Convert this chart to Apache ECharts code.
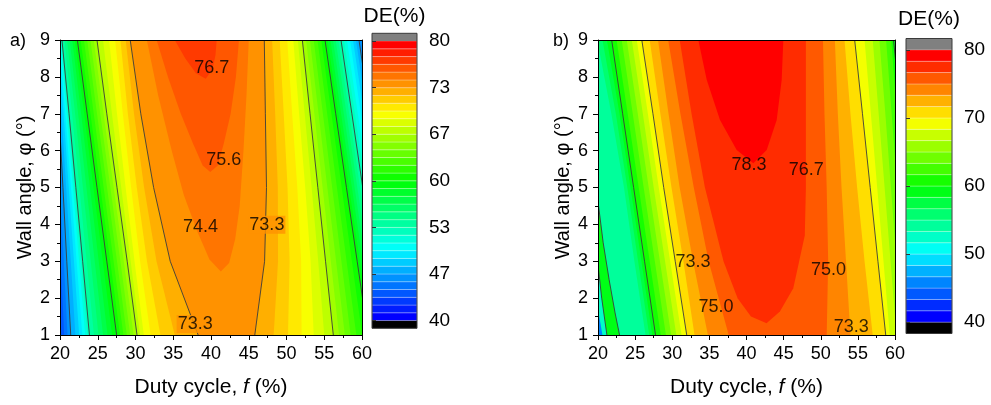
<!DOCTYPE html>
<html>
<head>
<meta charset="utf-8">
<script src="https://cdn.jsdelivr.net/npm/echarts@6/dist/echarts.min.js"></script>
<style>html,body{margin:0;padding:0;background:#fff;}#c{width:991px;height:405px;}</style>
</head>
<body>
<div id="c"></div>
<script>
// ===================== DATA =====================
// common axes
const dutyRange = [20, 60];
const phiRows = [1, 3, 5, 7, 9];          // rows at which contour crossings were read

// ---------- panel a) ----------
const levelsA = [40,41.11,42.22,43.33,44.44,45.56,46.67,47.78,48.89,50,51.11,52.22,53.33,54.44,55.56,56.67,57.78,58.89,60,61.11,62.22,63.33,64.44,65.56,66.67,67.78,68.89,70,71.11,72.22,73.33,74.44,75.56,76.67,77.78,78.89,80];
const colorbarTicksA = [40, 46.67, 53.33, 60, 66.67, 73.33, 80];
const colorbarLabelsA = ['40','47','53','60','67','73','80'];
const baseLevelA = 43.33;
const sideLevelsA = [44.44,45.56,46.67,47.78,48.89,50,51.11,52.22,53.33,54.44,55.56,56.67,57.78,58.89,60,61.11,62.22,63.33,64.44,65.56,66.67,67.78,68.89,70,71.11,72.22,73.33];
// duty cycle where DE crosses each level, low-f side (phi = 1,3,5,7,9)
const lowSideA = [
 [20.55,20.1,19.6,19.1,18.6],[21.0,20.5,20.0,19.5,19.0],[21.42,20.9,20.39,19.87,19.35],
 [22.04,21.43,20.82,20.2,19.58],[22.54,21.85,21.16,20.47,19.76],[22.96,22.2,21.45,20.69,19.91],
 [23.33,22.52,21.71,20.89,20.05],[23.63,22.77,21.91,21.05,20.16],[23.9,23.0,22.1,21.2,20.26],
 [24.5,23.53,22.57,21.6,20.6],[25.1,24.07,23.03,22.0,20.94],[25.7,24.6,23.5,22.4,21.28],
 [26.3,25.13,23.97,22.8,21.62],[26.9,25.67,24.43,23.2,21.96],[27.5,26.2,24.9,23.6,22.3],
 [27.95,26.65,25.34,24.03,22.73],[28.4,27.1,25.78,24.47,23.17],[28.85,27.55,26.23,24.9,23.6],
 [29.3,28.0,26.67,25.33,24.03],[29.75,28.45,27.11,25.77,24.47],[30.2,28.9,27.55,26.2,24.9],
 [30.6,29.36,28.11,26.88,25.7],[31.1,29.87,28.69,27.55,26.5],[32.0,30.61,29.42,28.32,27.3],
 [33.3,31.52,30.17,28.99,28.0],[35.2,32.78,31.14,29.8,28.7],[38.3,34.6,32.4,30.7,29.3]
];
// high-f side (null = beyond the right edge)
const highSideA = [
 [null,null,null,null,null],[65.76,64.32,62.88,61.44,60.0],[65.36,63.92,62.48,61.04,59.6],
 [64.96,63.52,62.08,60.64,59.2],[64.57,63.13,61.69,60.25,58.81],[64.17,62.73,61.29,59.85,58.41],
 [63.77,62.33,60.89,59.45,58.01],[63.38,61.94,60.5,59.06,57.62],[62.98,61.54,60.1,58.66,57.22],
 [62.61,61.17,59.74,58.31,56.87],[62.25,60.81,59.38,57.95,56.51],[61.88,60.45,59.02,57.59,56.16],
 [61.51,60.09,58.66,57.23,55.81],[61.15,59.72,58.3,56.88,55.45],[60.78,59.36,57.94,56.52,55.1],
 [60.02,58.66,57.31,55.95,54.6],[59.25,57.96,56.68,55.39,54.1],[58.49,57.27,56.05,54.82,53.6],
 [57.73,56.57,55.41,54.25,53.1],[56.96,55.87,54.78,53.69,52.6],[56.2,55.17,54.15,53.12,52.1],
 [55.0,54.2,53.33,52.41,51.5],[53.6,53.19,52.48,51.67,50.9],[52.0,51.94,51.43,50.75,50.1],
 [50.2,50.41,50.14,49.63,49.1],[48.3,48.88,48.85,48.5,48.1],[45.8,47.1,47.35,47.2,47.06]
];
// closed (U-shaped) regions near the optimum: [duty, phi] outlines
const capLevelsA = [74.44, 75.56, 76.67];
const capOutlineA = [
 [[31.5,9],[33.0,7.5],[34.8,6],[36.4,4.8],[38.2,3.8],[39.8,3.05],[41.3,2.72],[42.4,2.95],[43.2,3.6],[43.8,4.5],[44.3,6],[44.7,7.5],[45.0,9]],
 [[32.8,9],[34.3,8],[36.0,7],[37.6,6.2],[38.9,5.6],[39.9,5.42],[40.9,5.6],[41.7,6.2],[42.6,7],[43.3,8],[43.7,9]],
 [[35.2,9],[36.6,8.5],[38.0,8.1],[39.3,7.95],[40.2,8.2],[40.6,8.6],[40.75,9]]
];
const lineLevelsA = [46.67, 53.33, 60, 66.67, 73.33];
const contourLabelA = ['76.7','75.6','74.4','73.3','73.3'];
const labelDutyA = [40.1, 41.7, 38.6, 47.4, 37.9];
const labelPhiA  = [8.25, 5.75, 3.94, 3.99, 1.30];
const labelMaskA = [null, null, null, 73.33, 73.33];

// ---------- panel b) ----------
const levelsB = [40,41.67,43.33,45,46.67,48.33,50,51.67,53.33,55,56.67,58.33,60,61.67,63.33,65,66.67,68.33,70,71.67,73.33,75,76.67,78.33,80];
const colorbarTicksB = [40, 50, 60, 70, 80];
const colorbarLabelsB = ['40','50','60','70','80'];
const baseLevelB = 53.33;
const sideLevelsB = [55,56.67,58.33,60,61.67,63.33,65,66.67,68.33,70,71.67,73.33,75];
const lowSideB = [
 [26.4,24.9,23.5,21.8,19.9],[26.9,25.4,23.95,22.4,20.6],[27.3,25.85,24.38,22.9,21.2],
 [27.75,26.27,24.8,23.32,21.84],[28.45,26.96,25.48,24.0,22.5],[29.15,27.65,26.15,24.68,23.19],
 [29.85,28.34,26.83,25.36,23.87],[30.55,29.03,27.5,26.04,24.55],[31.25,29.72,28.18,26.72,25.22],
 [31.95,30.4,28.85,27.4,25.9],[33.0,31.5,29.9,28.4,26.96],[34.8,32.8,31.0,29.5,28.08],
 [37.6,34.9,32.9,31.1,29.45]
];
const highSideB = [
 [null,null,null,null,null],[null,null,null,null,null],[null,null,null,null,null],
 [63.2,62.4,61.6,60.8,59.8],[62.5,61.75,61.0,60.25,59.5],[61.8,61.05,60.3,59.55,58.8],
 [61.0,60.2,59.45,58.7,57.9],[60.2,59.4,58.6,57.8,57.0],[59.3,58.45,57.6,56.75,55.9],
 [58.75,57.7,56.66,55.62,54.57],[57.0,55.9,54.9,54.0,53.2],[54.0,53.4,52.8,52.3,51.9],
 [50.8,51.0,50.8,50.5,50.3]
];
const capLevelsB = [76.67, 78.33];
const capOutlineB = [
 [[31.0,9],[32.6,7],[34.4,5],[36.9,3],[38.8,2],[40.6,1.5],[42.7,1.32],[44.5,1.64],[46.3,2.27],[47.85,3.7],[48.0,5],[48.0,7],[48.0,9]],
 [[33.51,9],[34.64,7.92],[36.43,6.83],[38.68,6.02],[40.92,5.66],[42.72,6.02],[44.07,6.83],[44.74,7.92],[44.96,9]]
];
// small patches in the lower-left corner of b)
const patchLevelsB = [58.33, 51.67, 45];
const patchOutlineB = [
 [[20,4.62],[20.7,3.5],[21.5,2.5],[22.3,1.6],[22.9,1],[20,1]],
 [[20,2.9],[20.5,2.0],[21.2,1],[20,1]],
 [[20,1.7],[20.6,1],[20,1]]
];
const lineLevelsB = [60, 70];
const extraLinesB = [
 [[20,4.62],[20.7,3.5],[21.5,2.5],[22.3,1.6],[22.9,1]],
 [[20,2.9],[20.5,2.0],[21.2,1]]
];
const contourLabelB = ['78.3','76.7','73.3','75.0','75.0','73.3'];
const labelDutyB = [40.35, 48.05, 32.8, 35.9, 51.05, 54.1];
const labelPhiB  = [5.6, 5.47, 2.98, 1.75, 2.76, 1.22];
const labelMaskB = [null, null, null, null, null, null];

// ===================== RENDERING =====================
const FONT = "'Liberation Sans', Arial, Helvetica, sans-serif";
const rampStops = ['#0000ff', '#00ffff', '#00ff00', '#ffff00', '#ff0000'];
const underColor = '#000000', overColor = '#808080';

function hexToRgb(h) { return [1, 3, 5].map(i => parseInt(h.slice(i, i + 2), 16)); }
function ramp(t) {
  const n = rampStops.length - 1;
  const s = Math.max(0, Math.min(n, t * n));
  const i = Math.min(n - 1, Math.floor(s));
  const f = s - i;
  const a = hexToRgb(rampStops[i]), b = hexToRgb(rampStops[i + 1]);
  return 'rgb(' + a.map((v, k) => Math.round(v + (b[k] - v) * f)).join(',') + ')';
}
function bandIndex(levels, L) {
  let best = 0;
  levels.forEach((v, i) => { if (Math.abs(v - L) < Math.abs(levels[best] - L)) best = i; });
  return best;
}
function bandColor(levels, L) {
  const nb = levels.length - 1;
  return ramp(bandIndex(levels, L) / (nb - 1));
}

function buildFills(cfg) {
  const x0 = dutyRange[0], x1 = dutyRange[1];
  const y0 = phiRows[0], y1 = phiRows[phiRows.length - 1];
  const out = [{ level: cfg.base, pts: [[x0, y0], [x0, y1], [x1, y1], [x1, y0]] }];
  cfg.sideLevels.forEach((L, k) => {
    const left = phiRows.map((p, r) => [cfg.low[k][r] == null ? x0 : cfg.low[k][r], p]);
    const right = phiRows.map((p, r) => [cfg.high[k][r] == null ? x1 : cfg.high[k][r], p]).reverse();
    out.push({ level: L, pts: left.concat(right) });
  });
  cfg.capLevels.forEach((L, k) => out.push({ level: L, pts: cfg.capPts[k] }));
  (cfg.patchLevels || []).forEach((L, k) => out.push({ level: L, pts: cfg.patchPts[k] }));
  return out.map(o => Object.assign({}, o, { color: bandColor(cfg.levels, o.level) }));
}
function buildLines(cfg) {
  const out = [];
  cfg.lineLevels.forEach(L => {
    const k = cfg.sideLevels.findIndex(v => Math.abs(v - L) < 0.01);
    [cfg.low[k], cfg.high[k]].forEach(side => {
      const pts = phiRows.map((p, r) => side[r] == null ? null : [side[r], p]).filter(Boolean);
      if (pts.length > 1) out.push(pts);
    });
  });
  (cfg.extraLines || []).forEach(l => out.push(l));
  return out;
}

const cfgA = { levels: levelsA, base: baseLevelA, sideLevels: sideLevelsA, low: lowSideA, high: highSideA,
  capLevels: capLevelsA, capPts: capOutlineA, lineLevels: lineLevelsA };
const cfgB = { levels: levelsB, base: baseLevelB, sideLevels: sideLevelsB, low: lowSideB, high: highSideB,
  capLevels: capLevelsB, capPts: capOutlineB, patchLevels: patchLevelsB, patchPts: patchOutlineB,
  lineLevels: lineLevelsB, extraLines: extraLinesB };

function clipRect(cs) { return { type: 'rect', shape: { x: cs.x, y: cs.y, width: cs.width, height: cs.height } }; }

function fillSeries(xi, yi, fills) {
  return { type: 'custom', xAxisIndex: xi, yAxisIndex: yi, z: 1, silent: true, clip: true,
    data: fills.map(f => f.pts[0]),
    renderItem: (params, api) => {
      const f = fills[params.dataIndex];
      return { type: 'polygon', shape: { points: f.pts.map(p => api.coord(p)) },
        style: { fill: f.color }, clipPath: clipRect(params.coordSys) };
    } };
}
function lineSeries(xi, yi, lines) {
  return { type: 'custom', xAxisIndex: xi, yAxisIndex: yi, z: 3, silent: true, clip: true,
    data: lines.map(l => l[0]),
    renderItem: (params, api) => {
      const l = lines[params.dataIndex];
      return { type: 'polyline', shape: { points: l.map(p => api.coord(p)) },
        style: { stroke: '#3c3c3c', lineWidth: 0.9, fill: null }, clipPath: clipRect(params.coordSys) };
    } };
}
function labelSeries(xi, yi, levels, texts, duty, phi, mask) {
  return { type: 'scatter', xAxisIndex: xi, yAxisIndex: yi, z: 6, silent: true, symbolSize: 1,
    itemStyle: { color: 'rgba(0,0,0,0)' },
    label: { show: true, position: 'inside', formatter: '{b}', fontSize: 18, color: '#000', fontFamily: FONT },
    data: texts.map((t, i) => ({ name: t, value: [duty[i], phi[i]],
      label: mask[i] != null ? { backgroundColor: bandColor(levels, mask[i]), padding: [0, 1] } : {} })) };
}
function colorbarSeries(xi, yi, levels) {
  const step = levels[1] - levels[0], nb = levels.length - 1;
  const items = [[levels[0] - step, levels[0], underColor]];
  for (let i = 0; i < nb; i++) items.push([levels[i], levels[i + 1], ramp(i / (nb - 1))]);
  items.push([levels[nb], levels[nb] + step, overColor]);
  items.push([levels[0] - step, levels[nb] + step, null]); // frame
  return { type: 'custom', xAxisIndex: xi, yAxisIndex: yi, z: 2, silent: true,
    data: items.map(it => [0.5, (it[0] + it[1]) / 2]),
    renderItem: (params, api) => {
      const it = items[params.dataIndex];
      const p0 = api.coord([0, it[1]]), p1 = api.coord([1, it[0]]);
      const shape = { x: p0[0], y: p0[1], width: p1[0] - p0[0], height: p1[1] - p0[1] };
      if (it[2] == null) return { type: 'rect', shape, z2: 10, style: { fill: null, stroke: '#3a3a3a', lineWidth: 1 } };
      const sep = (it[2] === underColor || it[2] === overColor) ? null : 'rgba(255,255,255,0.45)';
      return { type: 'rect', shape, style: { fill: it[2], stroke: sep, lineWidth: 0.6 } };
    } };
}

const axisLabelStyle = { fontSize: 18, color: '#000', fontFamily: FONT };
function plotXAxis(gi) {
  return [{
    type: 'value', gridIndex: gi, min: dutyRange[0], max: dutyRange[1], interval: 5, position: 'bottom', z: 10,
    axisLine: { show: true, onZero: false, lineStyle: { color: '#000', width: 1 } },
    axisTick: { show: true, inside: false, length: 5, lineStyle: { color: '#000' } },
    minorTick: { show: true, splitNumber: 2, length: 3, lineStyle: { color: '#000' } },
    splitLine: { show: false },
    axisLabel: Object.assign({ margin: 10 }, axisLabelStyle),
    name: 'Duty cycle, {i|f} (%)', nameLocation: 'middle', nameGap: 42,
    nameTextStyle: { fontSize: 21, color: '#000', fontFamily: FONT,
      rich: { i: { fontStyle: 'italic', fontSize: 21, color: '#000', fontFamily: FONT } } }
  }, {
    type: 'value', gridIndex: gi, min: dutyRange[0], max: dutyRange[1], position: 'top', z: 10,
    axisLine: { show: true, onZero: false, lineStyle: { color: '#000', width: 1 } },
    axisTick: { show: false }, axisLabel: { show: false }, splitLine: { show: false }
  }];
}
function plotYAxis(gi) {
  return [{
    type: 'value', gridIndex: gi, min: 1, max: 9, interval: 1, position: 'left', z: 10,
    axisLine: { show: true, onZero: false, lineStyle: { color: '#000', width: 1 } },
    axisTick: { show: true, inside: false, length: 5, lineStyle: { color: '#000' } },
    minorTick: { show: true, splitNumber: 2, length: 3, lineStyle: { color: '#000' } },
    splitLine: { show: false },
    axisLabel: Object.assign({ margin: 10 }, axisLabelStyle),
    name: 'Wall angle, φ (°)', nameLocation: 'middle', nameGap: 25, nameRotate: 90,
    nameTextStyle: { fontSize: 20, color: '#000', fontFamily: FONT }
  }, {
    type: 'value', gridIndex: gi, min: 1, max: 9, position: 'right', z: 10,
    axisLine: { show: true, onZero: false, lineStyle: { color: '#000', width: 1 } },
    axisTick: { show: false }, axisLabel: { show: false }, splitLine: { show: false }
  }];
}
function cbXAxis(gi) { return { type: 'value', gridIndex: gi, min: 0, max: 1, show: false }; }
function cbYAxis(gi, levels, ticks, labels) {
  const step = levels[1] - levels[0];
  return {
    type: 'value', gridIndex: gi, min: levels[0] - step, max: levels[levels.length - 1] + step, position: 'right', z: 10,
    axisLine: { show: false },
    axisTick: { show: true, inside: false, length: 4, customValues: ticks, lineStyle: { color: '#333' } },
    axisLabel: Object.assign({ margin: 12, customValues: ticks,
      formatter: v => { const i = ticks.findIndex(t => Math.abs(t - v) < 0.01); return i < 0 ? '' : labels[i]; } },
      axisLabelStyle, { fontSize: 19 }),
    splitLine: { show: false }
  };
}

const option = {
  backgroundColor: '#ffffff',
  animation: false,
  textStyle: { fontFamily: FONT },
  grid: [
    { left: 60, top: 40, width: 302, height: 295 },
    { left: 372, top: 33.3, width: 45, height: 295 },
    { left: 598, top: 40, width: 297, height: 295 },
    { left: 906, top: 38.5, width: 46, height: 295 }
  ],
  xAxis: [].concat(plotXAxis(0), [cbXAxis(1)], plotXAxis(2), [cbXAxis(3)]),
  yAxis: [].concat(plotYAxis(0), [cbYAxis(1, levelsA, colorbarTicksA, colorbarLabelsA)],
                   plotYAxis(2), [cbYAxis(3, levelsB, colorbarTicksB, colorbarLabelsB)]),
  graphic: [
    { type: 'text', x: 10, y: 41, style: { text: 'a)', font: '18px ' + FONT, fill: '#000', textVerticalAlign: 'middle' } },
    { type: 'text', x: 553, y: 41, style: { text: 'b)', font: '18px ' + FONT, fill: '#000', textVerticalAlign: 'middle' } },
    { type: 'text', x: 394.5, y: 16, style: { text: 'DE(%)', font: '21px ' + FONT, fill: '#000', textAlign: 'center', textVerticalAlign: 'middle' } },
    { type: 'text', x: 929, y: 19, style: { text: 'DE(%)', font: '21px ' + FONT, fill: '#000', textAlign: 'center', textVerticalAlign: 'middle' } }
  ],
  series: [
    fillSeries(0, 0, buildFills(cfgA)),
    lineSeries(0, 0, buildLines(cfgA)),
    labelSeries(0, 0, levelsA, contourLabelA, labelDutyA, labelPhiA, labelMaskA),
    colorbarSeries(2, 2, levelsA),
    fillSeries(3, 3, buildFills(cfgB)),
    lineSeries(3, 3, buildLines(cfgB)),
    labelSeries(3, 3, levelsB, contourLabelB, labelDutyB, labelPhiB, labelMaskB),
    colorbarSeries(5, 5, levelsB)
  ]
};

const chart = echarts.init(document.getElementById('c'), null, { renderer: 'canvas', width: 991, height: 405 });
chart.setOption(option);
</script>
</body>
</html>
